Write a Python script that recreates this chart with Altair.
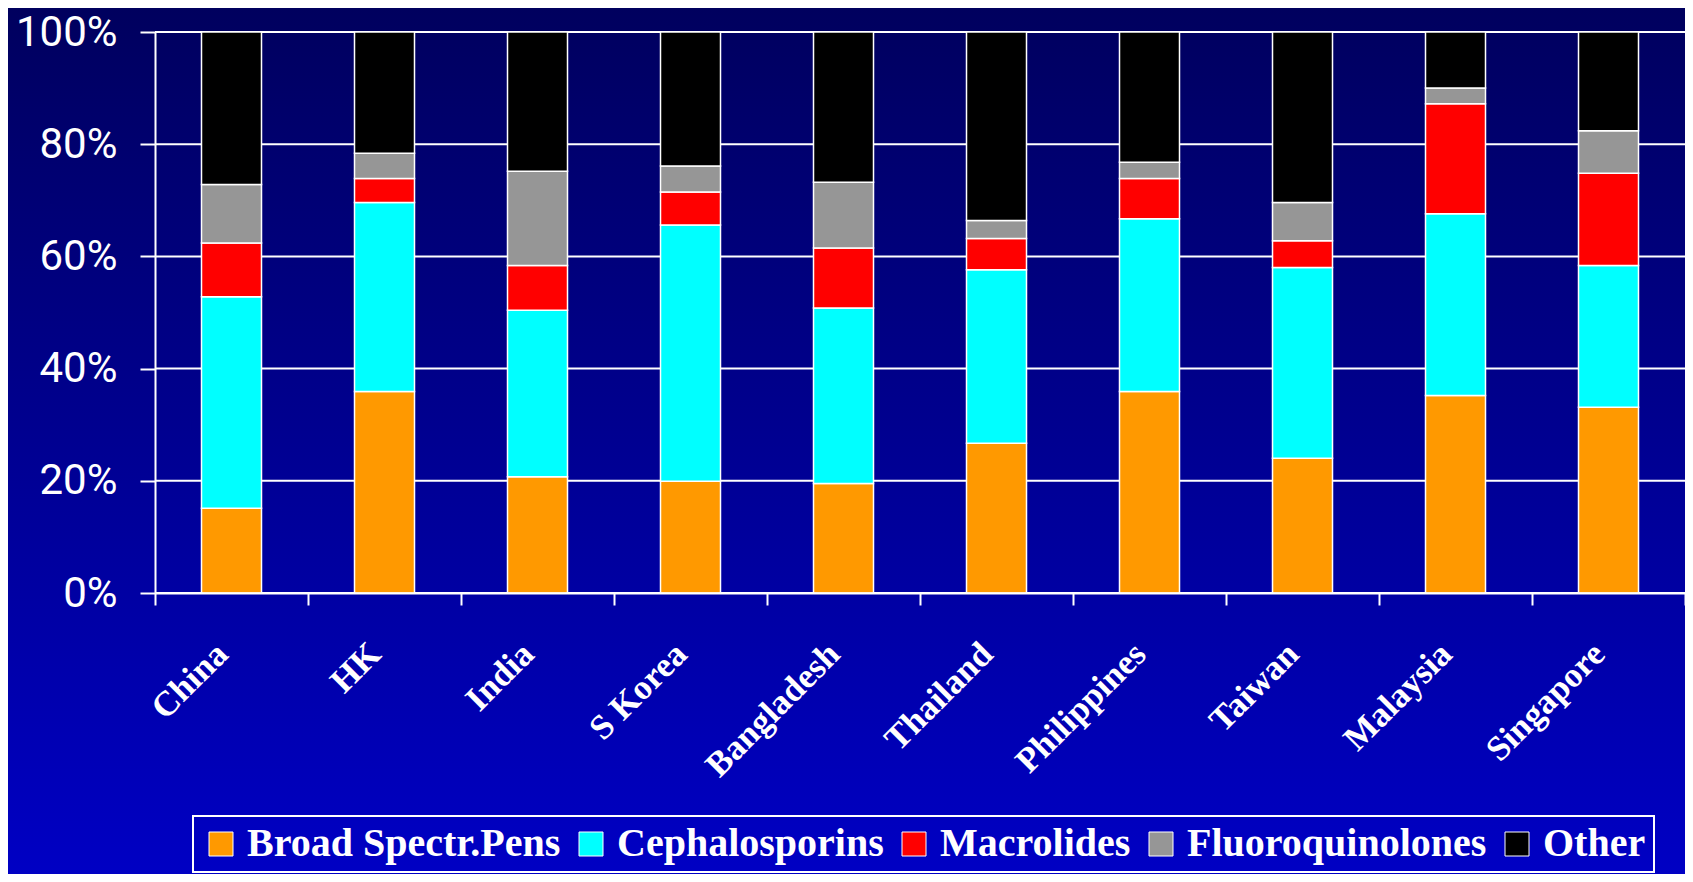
import altair as alt
import pandas as pd

countries = ["China", "HK", "India", "S Korea", "Bangladesh", "Thailand",
             "Philippines", "Taiwan", "Malaysia", "Singapore"]
classes = ["Broad Spectr.Pens", "Cephalosporins", "Macrolides", "Fluoroquinolones", "Other"]
class_colors = ["#FF9900", "#00FFFF", "#FF0000", "#969696", "#000000"]

broad_spectr_pens = [15.1, 35.9, 20.7, 19.9, 19.5, 26.7, 35.9, 24.0, 35.2, 33.1]
cephalosporins = [37.7, 33.7, 29.7, 45.7, 31.3, 30.9, 30.8, 34.0, 32.4, 25.3]
macrolides = [9.6, 4.3, 8.0, 5.9, 10.7, 5.6, 7.2, 4.8, 19.6, 16.4]
fluoroquinolones = [10.4, 4.5, 16.8, 4.6, 11.7, 3.2, 2.9, 6.8, 2.8, 7.6]
other = [27.2, 21.6, 24.8, 23.9, 26.8, 33.6, 23.2, 30.4, 10.0, 17.6]

y_ticks = [0, 20, 40, 60, 80, 100]

series = [broad_spectr_pens, cephalosporins, macrolides, fluoroquinolones, other]
rows = []
for k, (cls, vals) in enumerate(zip(classes, series)):
    for c, v in zip(countries, vals):
        rows.append({"country": c, "cls": cls, "value": v, "ord": k})
df = pd.DataFrame(rows)

W, H = 1530, 561
PAD = {"left": 147, "top": 24, "right": 0, "bottom": 281}

yscale = alt.Scale(domain=[0, 100], nice=False, zero=True)
yaxis = alt.Axis(values=y_ticks, labelExpr="datum.value + '%'", grid=False,
                 domainColor="white", domainWidth=2, tickColor="white", tickWidth=2,
                 tickSize=15, labelColor="white",
                 labelFont="Roboto, Liberation Sans, sans-serif",
                 labelFontSize=42, labelPadding=23, labelBaseline="middle",
                 title=None, zindex=1)
xaxis = alt.Axis(tickBand="extent", labelAngle=-45, labelAlign="right", labelBaseline="top",
                 labelFont="Liberation Serif, Times New Roman, serif", labelFontWeight="bold",
                 labelFontSize=35, labelColor="white", labelPadding=31, labelOffset=-22,
                 labelLimit=500, labelOverlap=False, tickSize=12, tickColor="white",
                 tickWidth=2, domainColor="white", domainWidth=2, grid=False, title=None,
                 zindex=1)

bg = alt.Chart(pd.DataFrame({"k": [0]})).mark_rect(
    fill=alt.LinearGradient(
        gradient="linear",
        stops=[alt.GradientStop(color="#00005E", offset=0),
               alt.GradientStop(color="#0000C4", offset=1)],
        x1=0, x2=0, y1=0, y2=1),
).encode(
    x=alt.value(-PAD["left"]), x2=alt.value(W + PAD["right"]),
    y=alt.value(-PAD["top"]), y2=alt.value(H + PAD["bottom"]),
)

grid = alt.Chart(pd.DataFrame({"value": y_ticks})).mark_rule(
    color="white", strokeWidth=2
).encode(
    y=alt.Y("value:Q", scale=yscale, axis=yaxis),
    x=alt.value(0), x2=alt.value(W),
)

bars = alt.Chart(df).mark_bar(size=60, stroke="white", strokeWidth=1.5).encode(
    x=alt.X("country:N", sort=countries,
            scale=alt.Scale(paddingInner=0, paddingOuter=0), axis=xaxis),
    y=alt.Y("value:Q", scale=yscale, axis=yaxis, stack="zero"),
    color=alt.Color("cls:N", sort=classes,
                    scale=alt.Scale(domain=classes, range=class_colors),
                    legend=alt.Legend(orient="none", legendX=38, legendY=784,
                                      direction="horizontal", columns=5, title=None,
                                      labelFont="Liberation Serif, Times New Roman, serif",
                                      labelFontWeight="bold", labelFontSize=40,
                                      labelColor="white", labelLimit=600, labelOffset=6,
                                      symbolType="square", symbolSize=576,
                                      symbolStrokeColor="white", symbolStrokeWidth=1,
                                      symbolOpacity=1, strokeColor="white",
                                      padding=8, columnPadding=10)),
    order=alt.Order("ord:Q", sort="ascending"),
)

chart = alt.layer(bg, grid, bars).properties(
    width=W, height=H,
    autosize=alt.AutoSizeParams(type="none"),
    padding=PAD,
).configure(background="#0000C4").configure_view(stroke=None).configure_legend(strokeWidth=2)

chart.save("out.html", embed_options={"renderer": "svg", "actions": False})
